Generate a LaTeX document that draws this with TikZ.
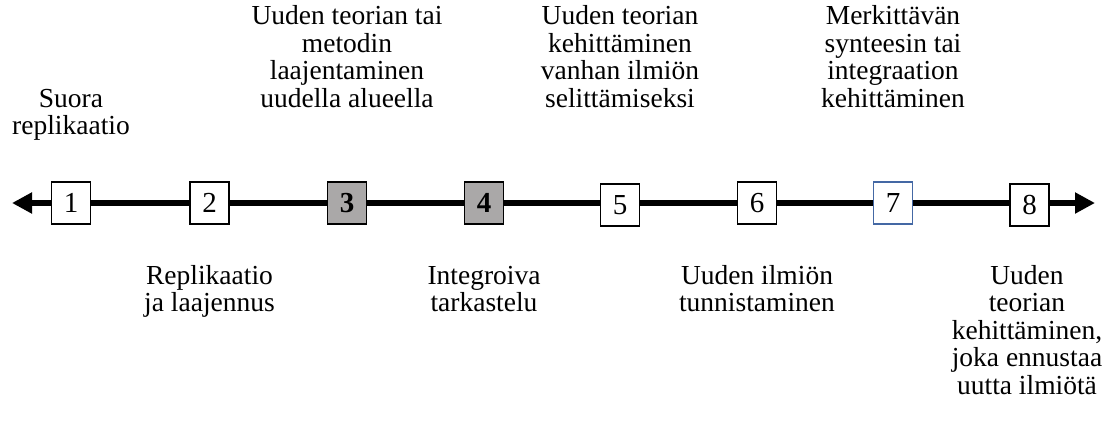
\documentclass[tikz,border=0pt]{standalone}
\usepackage{fontspec}
\setmainfont{Liberation Serif}
\usetikzlibrary{arrows.meta}
\definecolor{boxgray}{RGB}{170,168,168}
\definecolor{boxblue}{RGB}{68,104,164}
\tikzset{
  numbox/.style={draw=black, line width=1.2pt, fill=white, minimum width=39pt, minimum height=42pt, inner sep=0pt, font=\fontsize{29}{29}\selectfont},
  graybox/.style={numbox, fill=boxgray, font=\fontsize{29}{29}\selectfont\bfseries},
  bluebox/.style={numbox, draw=boxblue},
  lbl/.style={align=center, inner sep=0pt, font=\fontsize{27.5}{27.5}\selectfont},
  toplbl/.style={lbl, anchor=south},
  botlbl/.style={lbl, anchor=north},
  axis/.style={line width=5.5pt},
  tip/.style={-{Triangle[length=20pt,width=20pt]}}
}
\begin{document}
\begin{tikzpicture}[x=1pt,y=-1pt]
\useasboundingbox (0,0) rectangle (1110,423);
\coordinate (L) at (12,203);
\coordinate (R) at (1095,203);
\node[numbox] (b1) at (71,203) {1};
\node[numbox] (b2) at (209.5,203) {2};
\node[graybox] (b3) at (347,203) {3};
\node[graybox] (b4) at (484,203) {4};
\node[numbox] (b5) at (620,205) {5};
\node[numbox] (b6) at (757,203) {6};
\node[bluebox] (b7) at (893,203) {7};
\node[numbox] (b8) at (1029.5,205) {8};
\draw[axis,tip] (b1.west) -- (L);
\draw[axis] (b1.east) -- (b2.west);
\draw[axis] (b2.east) -- (b3.west);
\draw[axis] (b3.east) -- (b4.west);
\draw[axis] (b4.east) -- (b5.west|-b4.east);
\draw[axis] (b5.east|-b4.east) -- (b6.west);
\draw[axis] (b6.east) -- (b7.west);
\draw[axis] (b7.east) -- (b8.west|-b7.east);
\draw[axis,tip] (b8.east|-b7.east) -- (R);
\node[toplbl] (t1) at (71,143.25) {\strut Suora\\\strut replikaatio};
\node[toplbl] (t3) at (347,115.75) {\strut Uuden teorian tai\\\strut metodin\\\strut laajentaminen\\\strut uudella alueella};
\node[toplbl] (t5) at (620,115.75) {\strut Uuden teorian\\\strut kehittäminen\\\strut vanhan ilmiön\\\strut selittämiseksi};
\node[toplbl] (t7) at (893,115.75) {\strut Merkittävän\\\strut synteesin tai\\\strut integraation\\\strut kehittäminen};
\node[botlbl] (t2) at (209.5,264.75) {\strut Replikaatio\\\strut ja laajennus};
\node[botlbl] (t4) at (484,264.75) {\strut Integroiva\\\strut tarkastelu};
\node[botlbl] (t6) at (757,264.75) {\strut Uuden ilmiön\\\strut tunnistaminen};
\node[botlbl] (t8) at (1027,264.75) {\strut Uuden\\\strut teorian\\\strut kehittäminen,\\\strut joka ennustaa\\\strut uutta ilmiötä};
\end{tikzpicture}
\end{document}
